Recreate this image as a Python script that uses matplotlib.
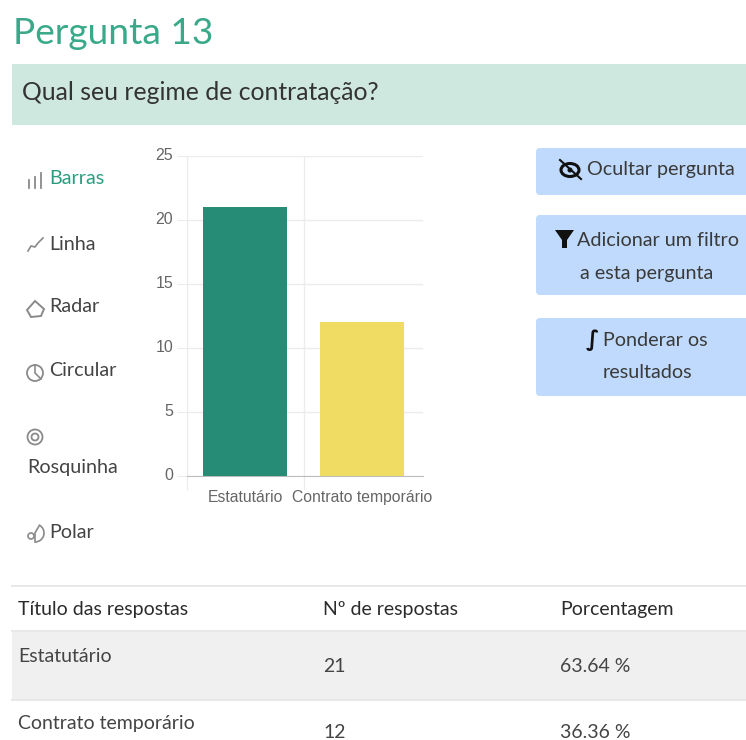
import matplotlib
matplotlib.use("Agg")
import matplotlib.pyplot as plt
from matplotlib.patches import Rectangle, FancyBboxPatch, Circle, Polygon, Wedge, Ellipse

TITLE = "Pergunta 13"
QUESTION = "Qual seu regime de contratação?"
categories = ["Estatutário", "Contrato temporário"]
counts = [21, 12]
bar_colors = ["#268c75", "#f0dc62"]
y_ticks = [0, 5, 10, 15, 20, 25]
percentages = ["63.64 %", "36.36 %"]
table_header = ["Título das respostas", "Nº de respostas", "Porcentagem"]
chart_types = ["Barras", "Linha", "Radar", "Circular", "Rosquinha", "Polar"]

UI_FONT = "Lato"
TEXT = "#444444"
GREEN = "#2a9d7f"
BLUE = "#bfdafc"

fig = plt.figure(figsize=(7.46, 7.40), dpi=100, facecolor="white")

# page layer in pixel coordinates
bg = fig.add_axes([0, 0, 1, 1])
bg.set_xlim(0, 746)
bg.set_ylim(740, 0)
bg.axis("off")

bg.text(13, 33, TITLE, fontsize=26.7, color="#3aa98a", family=UI_FONT, va="center")
bg.add_patch(Rectangle((12, 64), 734, 61, color="#cfe8df", lw=0))
bg.text(22, 93, QUESTION, fontsize=17.8, color="#333333", family=UI_FONT, va="center")

# chart type list
label_pos = [(49.5, 179), (49.5, 244), (49.5, 307), (49.5, 371), (27.5, 467), (49.5, 532)]
for name, (x, y) in zip(chart_types, label_pos):
    color = GREEN if name == "Barras" else TEXT
    bg.text(x, y, name, fontsize=14.2, color=color, family=UI_FONT, va="center")

icon = "#8a8a8a"
for x, top in [(29, 180), (35, 177), (41, 173)]:
    bg.plot([x, x], [top, 188], color=icon, lw=1.3)
bg.plot([28, 31, 35, 38, 43], [251, 246, 247, 243, 238], color=icon, lw=1.2)
bg.add_patch(Polygon([[27, 310], [35, 301], [44, 309], [41, 316], [31, 317]], fill=False, ec=icon, lw=1.4))
bg.add_patch(Circle((35, 373), 8, fill=False, ec=icon, lw=1.3))
bg.plot([35, 35, 41], [365, 373, 379], color=icon, lw=1.2)
bg.add_patch(Circle((35, 437), 7.5, fill=False, ec=icon, lw=1.3))
bg.add_patch(Circle((35, 437), 3.5, fill=False, ec=icon, lw=1.3))
bg.add_patch(Wedge((35, 533), 9, -60, 90, fill=False, ec=icon, lw=1.2))
bg.add_patch(Circle((31, 536), 3, fill=False, ec=icon, lw=1.2))

# buttons
buttons = [(148, 47), (215, 80), (318, 78)]
for top, h in buttons:
    bg.add_patch(FancyBboxPatch((536, top), 230, h, boxstyle="round,pad=0,rounding_size=4", fc=BLUE, ec="none"))

btn_text = dict(fontsize=14.2, color="#3a3a3a", family=UI_FONT, ha="center", va="center")
bg.text(661, 170, "Ocultar pergunta", **btn_text)
bg.text(658, 240, "Adicionar um filtro", **btn_text)
bg.text(647, 273, "a esta pergunta", **btn_text)
bg.text(655, 341, "Ponderar os", **btn_text)
bg.text(647, 373, "resultados", **btn_text)

bg.add_patch(Ellipse((570, 170), 18, 13, fill=False, ec="#111111", lw=2.2))
bg.add_patch(Circle((570, 170), 2.5, color="#111111", lw=0))
bg.plot([560, 581], [160, 179], color="#111111", lw=1.5)
bg.add_patch(Polygon([[555, 230], [574, 230], [567, 240], [567, 248], [562, 248], [562, 240]], color="#111111", lw=0))
bg.text(592, 340, "∫", fontsize=16, color="#111111", family="DejaVu Sans", ha="center", va="center", weight="bold")

# table
bg.add_patch(Rectangle((12, 631), 734, 69, color="#f0f0f0", lw=0))
for y in [586, 631, 700]:
    bg.plot([12, 746], [y, y], color="#e6e8ea", lw=1.4)
col_x = [18, 323, 560]
for x, head in zip(col_x, table_header):
    bg.text(x, 609, head, fontsize=14, color="#2b2b2b", family=UI_FONT, va="center")
name_y = [656, 724]
value_y = [666, 733]
for i, name in enumerate(categories):
    bg.text(col_x[0], name_y[i], name, fontsize=14, color=TEXT, family=UI_FONT, va="center")
    bg.text(col_x[1], value_y[i], str(counts[i]), fontsize=14, color=TEXT, family=UI_FONT, va="center")
    bg.text(col_x[2], value_y[i], percentages[i], fontsize=14, color=TEXT, family=UI_FONT, va="center")

# bar chart, axes box 187..423 x 156..476 in pixels
ax = fig.add_axes([187 / 746, 1 - 476 / 740, 236 / 746, 320 / 740])
ax.set_facecolor("none")
positions = range(len(categories))
ax.bar(positions, counts, width=0.72, color=bar_colors, zorder=3)
ax.set_xlim(-0.5, 1.525)
ax.set_ylim(0, 25)
ax.set_yticks(y_ticks)
ax.set_xticks([-0.5, 0.5])
ax.set_xticklabels([])
ax.grid(True, color="#ececec", lw=1, zorder=0)
ax.set_axisbelow(True)
for s in ["top", "right"]:
    ax.spines[s].set_visible(False)
ax.spines["left"].set_color("#ececec")
ax.spines["bottom"].set_color("#bdbdbd")
ax.tick_params(axis="y", colors="#ececec", labelcolor="#666666", labelsize=11.5, length=7, pad=3)
ax.tick_params(axis="x", colors="#ececec", length=10)
for lab in ax.get_yticklabels():
    lab.set_family("Liberation Sans")
    lab.set_verticalalignment("center")
for p, name in zip(positions, categories):
    ax.annotate(name, (p, 0), xytext=(0, -15.5), textcoords="offset points", ha="center", va="center",
                fontsize=11.3, color="#666666", family="Liberation Sans")

fig.savefig("out.png", dpi=100)
